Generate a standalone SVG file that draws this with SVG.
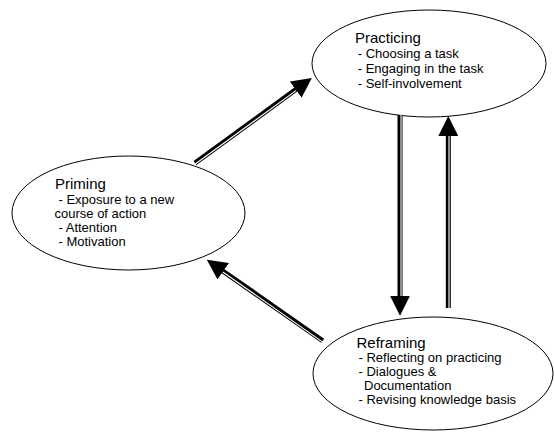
<svg xmlns="http://www.w3.org/2000/svg" width="554" height="432" viewBox="0 0 554 432">
<style>
.node ellipse{fill:#fff;stroke:#000;stroke-width:1}
.t{font-family:"Liberation Sans",Arial,sans-serif;font-size:15px;fill:#000}
.i{font-family:"Liberation Sans",Arial,sans-serif;font-size:13px;fill:#000}
.shaft{stroke:#000;stroke-width:5;fill:none}
.stripe{stroke:#fff;stroke-width:1.1;fill:none}
</style>
<defs>
<marker id="head" markerUnits="userSpaceOnUse" viewBox="0 0 20 20" markerWidth="20" markerHeight="20" refX="1" refY="10" orient="auto">
<path d="M0,0 L20,10 L0,20 z" fill="#000"/>
</marker>
</defs>
<rect width="554" height="432" fill="#fff"/>
<g id="practicing" class="node">
<ellipse cx="429" cy="63.5" rx="117" ry="53.5"/>
<text class="t" x="355" y="43">Practicing</text>
<text class="i" x="357.7" y="57.5">- Choosing a task</text>
<text class="i" x="357.7" y="72.5">- Engaging in the task</text>
<text class="i" x="357.7" y="87.5">- Self-involvement</text>
</g>
<g id="priming" class="node">
<ellipse cx="128.5" cy="213" rx="116.5" ry="57"/>
<text class="t" x="55" y="189">Priming</text>
<text class="i" x="58.5" y="203.5">- Exposure to a new</text>
<text class="i" x="54.5" y="217.5">course of action</text>
<text class="i" x="58.5" y="231.5">- Attention</text>
<text class="i" x="58.5" y="246">- Motivation</text>
</g>
<g id="reframing" class="node">
<ellipse cx="433" cy="373.5" rx="120" ry="56.5"/>
<text class="t" x="356.5" y="347.5">Reframing</text>
<text class="i" x="358.5" y="362">- Reflecting on practicing</text>
<text class="i" x="358.5" y="376">- Dialogues &amp;</text>
<text class="i" x="364" y="390">Documentation</text>
<text class="i" x="358.5" y="404">- Revising knowledge basis</text>
</g>
<g id="connectors">
<g id="priming-practicing">
<line class="shaft" x1="195" y1="163" x2="296.5" y2="89.1" marker-end="url(#head)"/>
<line class="stripe" x1="195.6" y1="163.8" x2="296" y2="90.6"/>
</g>
<g id="practicing-reframing">
<line class="shaft" x1="400" y1="115" x2="400" y2="296.7" marker-end="url(#head)"/>
<line class="stripe" x1="401" y1="115" x2="401" y2="296"/>
</g>
<g id="reframing-practicing">
<line class="shaft" x1="448.3" y1="308" x2="448.3" y2="135" marker-end="url(#head)"/>
<line class="stripe" x1="449" y1="308" x2="449" y2="136"/>
</g>
<g id="reframing-priming">
<line class="shaft" x1="322.7" y1="340.7" x2="222.4" y2="270.7" marker-end="url(#head)"/>
<line class="stripe" x1="322" y1="341.6" x2="222.8" y2="272"/>
</g>
</g>
</svg>
